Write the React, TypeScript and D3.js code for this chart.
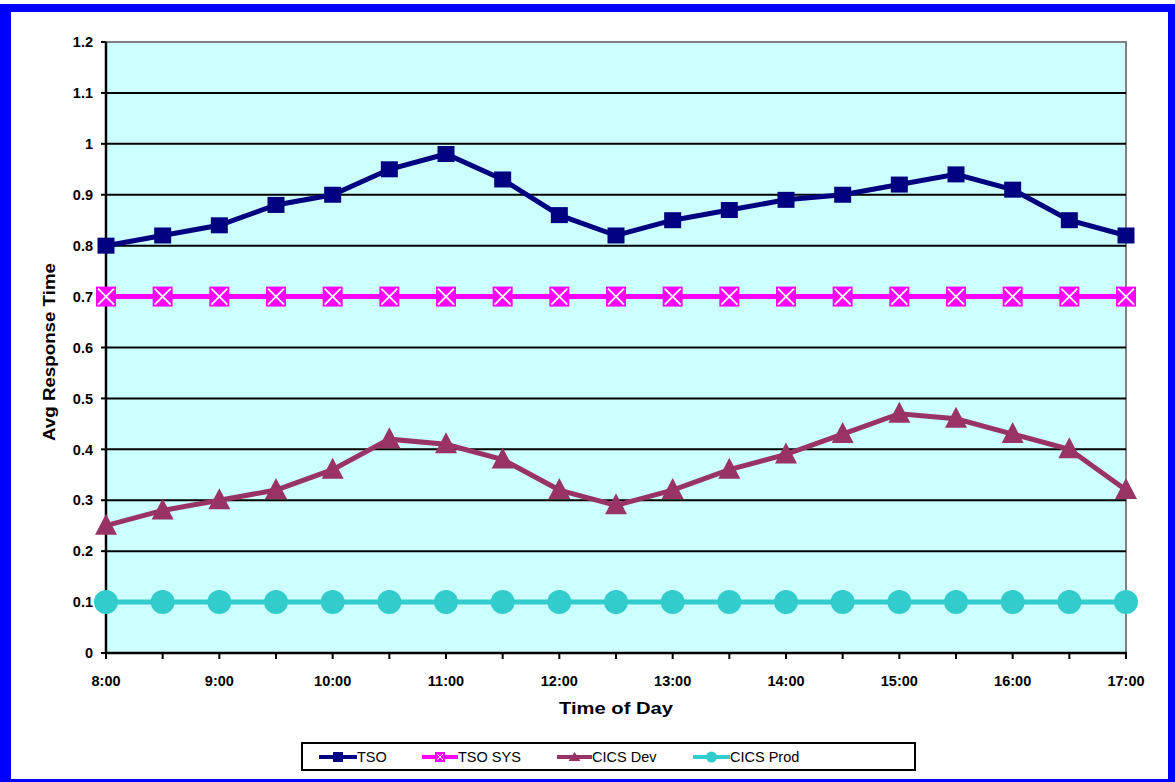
import React from "react";
import * as d3 from "d3";

const times = ["8:00","8:30","9:00","9:30","10:00","10:30","11:00","11:30","12:00","12:30","13:00","13:30","14:00","14:30","15:00","15:30","16:00","16:30","17:00"];
const xTickLabels = ["8:00","","9:00","","10:00","","11:00","","12:00","","13:00","","14:00","","15:00","","16:00","","17:00"];
const tso = [0.80,0.82,0.84,0.88,0.90,0.95,0.98,0.93,0.86,0.82,0.85,0.87,0.89,0.90,0.92,0.94,0.91,0.85,0.82];
const tsoSys = [0.7,0.7,0.7,0.7,0.7,0.7,0.7,0.7,0.7,0.7,0.7,0.7,0.7,0.7,0.7,0.7,0.7,0.7,0.7];
const cicsDev = [0.25,0.28,0.30,0.32,0.36,0.42,0.41,0.38,0.32,0.29,0.32,0.36,0.39,0.43,0.47,0.46,0.43,0.40,0.32];
const cicsProd = [0.1,0.1,0.1,0.1,0.1,0.1,0.1,0.1,0.1,0.1,0.1,0.1,0.1,0.1,0.1,0.1,0.1,0.1,0.1];
const yTicks = [0,0.1,0.2,0.3,0.4,0.5,0.6,0.7,0.8,0.9,1,1.1,1.2];
const yTickLabels = ["0","0.1","0.2","0.3","0.4","0.5","0.6","0.7","0.8","0.9","1","1.1","1.2"];

const series = [
  { name: "TSO", values: tso, color: "#000080", marker: "square" },
  { name: "TSO SYS", values: tsoSys, color: "#FF00FF", marker: "x" },
  { name: "CICS Dev", values: cicsDev, color: "#993366", marker: "triangle" },
  { name: "CICS Prod", values: cicsProd, color: "#33CCCC", marker: "circle" },
];

const W = 1175, H = 782;
const L = 106, R = 1126, T = 42, B = 653;
const font = "Arial, 'Liberation Sans', sans-serif";

function Marker({ type, x, y, color }: { type: string; x: number; y: number; color: string }) {
  if (type === "square") return <rect x={x - 8.5} y={y - 8} width={17} height={16} fill={color} />;
  if (type === "x")
    return (
      <g>
        <rect x={x - 10} y={y - 10} width={20} height={20} fill={color} />
        <path d={`M${x - 8},${y - 8}L${x + 8},${y + 8}M${x + 8},${y - 8}L${x - 8},${y + 8}`} stroke="#fff" strokeWidth={1.8} />
      </g>
    );
  if (type === "triangle")
    return <path d={`M${x},${y - 12}L${x + 11},${y + 9}L${x - 11},${y + 9}Z`} fill={color} />;
  return <circle cx={x} cy={y} r={12} fill={color} />;
}

export default function App() {
  const x = d3.scalePoint<string>().domain(times).range([L, R]);
  const y = d3.scaleLinear().domain([0, 1.2]).range([B, T]);
  const line = d3
    .line<number>()
    .x((_, i) => x(times[i]) as number)
    .y((d) => y(d));

  const legendItems = [
    { lx: 319, tx: 357 },
    { lx: 422, tx: 458 },
    { lx: 557, tx: 592 },
    { lx: 693, tx: 730 },
  ];

  return (
    <svg width={W} height={H} style={{ position: "absolute", left: 0, top: 0 }} fontFamily={font}>
      <rect x={0} y={0} width={W} height={H} fill="#fff" />
      <rect x={0} y={4} width={W} height={H - 4} fill="#0000FF" />
      <rect x={11} y={12} width={1157} height={767} fill="#fff" />
      <rect x={L} y={T} width={R - L} height={B - T} fill="#CCFFFF" stroke="#808080" strokeWidth={2} />
      {yTicks.slice(1, -1).map((t) => (
        <line key={t} x1={L} x2={R} y1={y(t)} y2={y(t)} stroke="#000" strokeWidth={2} />
      ))}
      <line x1={L} x2={L} y1={T} y2={B} stroke="#000" strokeWidth={2.5} />
      <line x1={L - 1} x2={R + 1} y1={B} y2={B} stroke="#000" strokeWidth={2.5} />
      {yTicks.map((t, i) => (
        <g key={t}>
          <line x1={L - 5} x2={L} y1={y(t)} y2={y(t)} stroke="#000" strokeWidth={2} />
          <text x={L - 13} y={y(t)} dy="0.36em" textAnchor="end" fontSize={14.5} fontWeight="bold" fill="#000">
            {yTickLabels[i]}
          </text>
        </g>
      ))}
      {times.map((t, i) => (
        <g key={t}>
          <line x1={x(t)} x2={x(t)} y1={B} y2={B + 6} stroke="#000" strokeWidth={2} />
          {xTickLabels[i] && (
            <text x={x(t)} y={B + 33} textAnchor="middle" fontSize={14.5} fontWeight="bold" fill="#000">
              {xTickLabels[i]}
            </text>
          )}
        </g>
      ))}
      <text x={(L + R) / 2} y={714} textAnchor="middle" fontSize={17} fontWeight="bold" fill="#000" textLength={114} lengthAdjust="spacingAndGlyphs">
        Time of Day
      </text>
      <text transform={`translate(55,${352}) rotate(-90)`} textAnchor="middle" fontSize={17} fontWeight="bold" fill="#000" textLength={178} lengthAdjust="spacingAndGlyphs">
        Avg Response Time
      </text>
      {series.map((s) => (
        <g key={s.name}>
          <path d={line(s.values) || ""} fill="none" stroke={s.color} strokeWidth={5} />
          {s.values.map((v, i) => (
            <Marker key={i} type={s.marker} x={x(times[i]) as number} y={y(v)} color={s.color} />
          ))}
        </g>
      ))}
      <rect x={302} y={743} width={613} height={27} fill="#fff" stroke="#000" strokeWidth={2} />
      {series.map((s, i) => {
        const it = legendItems[i];
        const cy = 757;
        const mx = (it.lx + it.tx) / 2;
        return (
          <g key={s.name}>
            <line x1={it.lx} x2={it.tx} y1={cy} y2={cy} stroke={s.color} strokeWidth={4} />
            {s.marker === "square" && <rect x={mx - 5} y={cy - 5} width={10} height={10} fill={s.color} />}
            {s.marker === "x" && (
              <g>
                <rect x={mx - 5} y={cy - 5} width={10} height={10} fill={s.color} />
                <path d={`M${mx - 3},${cy - 3}L${mx + 3},${cy + 3}M${mx + 3},${cy - 3}L${mx - 3},${cy + 3}`} stroke="#fff" strokeWidth={1} />
              </g>
            )}
            {s.marker === "triangle" && <path d={`M${mx},${cy - 5}L${mx + 6},${cy + 4}L${mx - 6},${cy + 4}Z`} fill={s.color} />}
            {s.marker === "circle" && <circle cx={mx} cy={cy} r={5.5} fill={s.color} />}
            <text x={it.tx} y={cy} dy="0.36em" fontSize={14.5} fill="#000">
              {s.name}
            </text>
          </g>
        );
      })}
    </svg>
  );
}
